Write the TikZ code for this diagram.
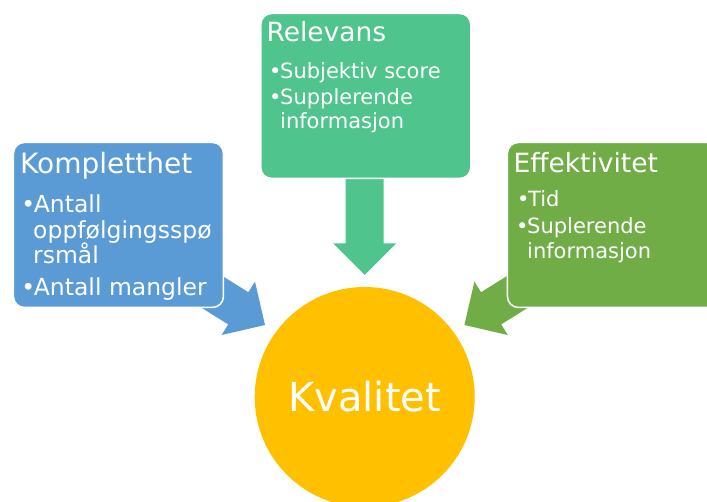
\documentclass[tikz,border=0pt]{standalone}
\usepackage{fontspec}
\setmainfont{DejaVu Sans}
\usetikzlibrary{calc}

\definecolor{kompblue}{HTML}{5B9BD5}
\definecolor{relgreen}{HTML}{4FC48D}
\definecolor{effgreen}{HTML}{70AD47}
\definecolor{kvalgold}{HTML}{FFC000}

\tikzset{
	box/.style={draw=white, line width=1.5pt, rounded corners=11pt, minimum width=210pt, minimum height=165pt, inner sep=0pt, anchor=north west},
	titleK/.style={text=white, anchor=base west, inner sep=0pt, font=\fontsize{28}{30}\selectfont},
	itemK/.style={text=white, anchor=base west, inner sep=0pt, font=\fontsize{23.5}{26}\selectfont},
	titleR/.style={text=white, anchor=base west, inner sep=0pt, font=\fontsize{26.5}{29}\selectfont},
	itemR/.style={text=white, anchor=base west, inner sep=0pt, font=\fontsize{21}{24}\selectfont},
	dot/.style={text=white, anchor=base east, inner sep=0pt, xshift=1.8pt},
}

% block arrow: colour, tip, direction, length
\newcommand{\blockarrow}[4]{%
	\fill[#1, shift={(#2)}, rotate=#3] (0,0) -- (-31.5,31.5) -- (-31.5,19) -- (-#4,19) -- (-#4,-19) -- (-31.5,-19) -- (-31.5,-31.5) -- cycle;}

\begin{document}
\begin{tikzpicture}[x=1pt, y=-1pt]
	\useasboundingbox (0,0) rectangle (707,502);
	\clip (0,0) rectangle (707,502);
	
	% the circle
	\node[circle, fill=kvalgold, minimum size=220pt, inner sep=0pt, text=white, font=\fontsize{40}{48}\selectfont] (kval) at (364.7,397) {Kvalitet};
	
	% tips of the arrows
	\coordinate (tipK) at ($(kval.center)+(-99.7,-72)$);
	\coordinate (tipR) at ($(kval.north)+(0,-12)$);
	\coordinate (tipE) at ($(kval.center)+(99.7,-72)$);
	
	% arrows
	\blockarrow{kompblue}{tipK}{-32}{120}
	\blockarrow{relgreen}{tipR}{-90}{105}
	\blockarrow{effgreen}{tipE}{-148}{120}
	
	% boxes
	\node[box, fill=kompblue] (komp) at (12.7,141.7) {};
	\node[box, fill=relgreen] (rel) at (260,12.7) {};
	\node[box, fill=effgreen] (eff) at (506.7,141.7) {};
	
	% Kompletthet
	\node[titleK] (kompT) at ($(komp.north west)+(7.3,32.3)$) {Kompletthet};
	\node[itemK] (komp1) at ($(komp.north west)+(21,71)$) {Antall};
	\node[itemK] (komp2) at ($(komp.north west)+(20.3,97.3)$) {oppfølgingsspø};
	\node[itemK] (komp3) at ($(komp.north west)+(20.3,121.6)$) {rsmål};
	\node[itemK] (komp4) at ($(komp.north west)+(21,154.3)$) {Antall mangler};
	\node[dot, font=\fontsize{23.5}{26}\selectfont] at (komp1.base west) {•};
	\node[dot, font=\fontsize{23.5}{26}\selectfont] at (komp4.base west) {•};
	
	% Relevans
	\node[titleR] (relT) at ($(rel.north west)+(6.3,29)$) {Relevans};
	\node[itemR] (rel1) at ($(rel.north west)+(20,65.6)$) {Subjektiv score};
	\node[itemR] (rel2) at ($(rel.north west)+(20,91.6)$) {Supplerende};
	\node[itemR] (rel3) at ($(rel.north west)+(20,115.6)$) {informasjon};
	\node[dot, font=\fontsize{21}{24}\selectfont] at (rel1.base west) {•};
	\node[dot, font=\fontsize{21}{24}\selectfont] at (rel2.base west) {•};
	
	% Effektivitet
	\node[titleR] (effT) at ($(eff.north west)+(6.6,30.6)$) {Effektivitet};
	\node[itemR] (eff1) at ($(eff.north west)+(21.3,65)$) {Tid};
	\node[itemR] (eff2) at ($(eff.north west)+(20.3,92.3)$) {Suplerende};
	\node[itemR] (eff3) at ($(eff.north west)+(20.3,116.6)$) {informasjon};
	\node[dot, font=\fontsize{21}{24}\selectfont] at (eff1.base west) {•};
	\node[dot, font=\fontsize{21}{24}\selectfont] at (eff2.base west) {•};
\end{tikzpicture}
\end{document}
